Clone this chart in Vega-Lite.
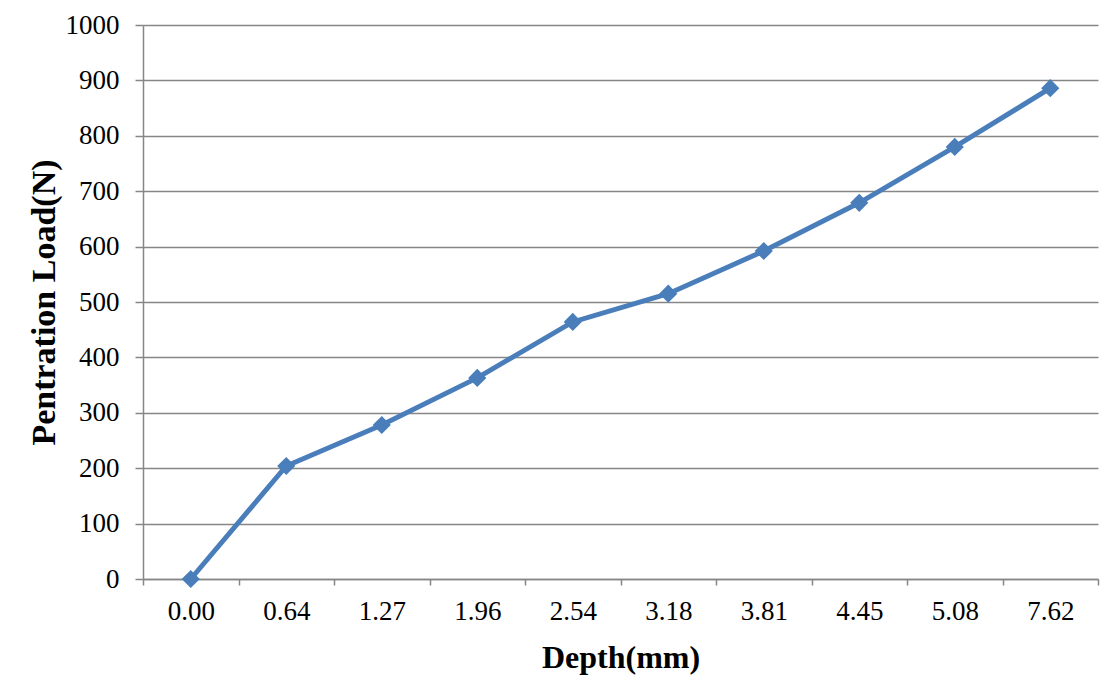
{
  "$schema": "https://vega.github.io/schema/vega-lite/v6.json",
  "width": 955,
  "height": 554,
  "autosize": {"type": "none"},
  "padding": {"left": 143, "top": 25, "right": 16, "bottom": 103},
  "background": "white",
  "data": {
    "values": [
      {"depth": "0.00", "load": 0},
      {"depth": "0.64", "load": 204},
      {"depth": "1.27", "load": 278},
      {"depth": "1.96", "load": 363},
      {"depth": "2.54", "load": 464},
      {"depth": "3.18", "load": 515},
      {"depth": "3.81", "load": 592},
      {"depth": "4.45", "load": 679},
      {"depth": "5.08", "load": 780},
      {"depth": "7.62", "load": 886}
    ]
  },
  "config": {
    "font": "Liberation Serif",
    "view": {"stroke": null},
    "axis": {
      "labelFont": "Liberation Serif",
      "titleFont": "Liberation Serif",
      "labelColor": "black",
      "titleColor": "black",
      "labelFontSize": 27,
      "titleFontWeight": "bold",
      "domainColor": "#868686",
      "domainWidth": 1.5,
      "tickColor": "#868686",
      "tickWidth": 1.5,
      "gridColor": "#868686",
      "gridWidth": 1.5
    }
  },
  "mark": {
    "type": "line",
    "color": "#4a7ebb",
    "strokeWidth": 5,
    "point": {"shape": "diamond", "size": 330, "filled": true, "color": "#4a7ebb", "opacity": 1}
  },
  "encoding": {
    "x": {
      "field": "depth",
      "type": "ordinal",
      "sort": null,
      "bandPosition": 0.5,
      "scale": {"type": "band", "paddingInner": 0, "paddingOuter": 0},
      "axis": {
        "title": "Depth(mm)",
        "titleFontSize": 32,
        "labelAngle": 0,
        "tickBand": "extent",
        "tickSize": 6,
        "labelPadding": 13,
        "titlePadding": 18,
        "grid": false
      }
    },
    "y": {
      "field": "load",
      "type": "quantitative",
      "scale": {"domain": [0, 1000], "nice": false},
      "axis": {
        "title": "Pentration Load(N)",
        "titleFontSize": 34,
        "format": "d",
        "values": [0, 100, 200, 300, 400, 500, 600, 700, 800, 900, 1000],
        "tickSize": 8,
        "labelPadding": 16,
        "titlePadding": 4,
        "grid": true
      }
    }
  }
}
